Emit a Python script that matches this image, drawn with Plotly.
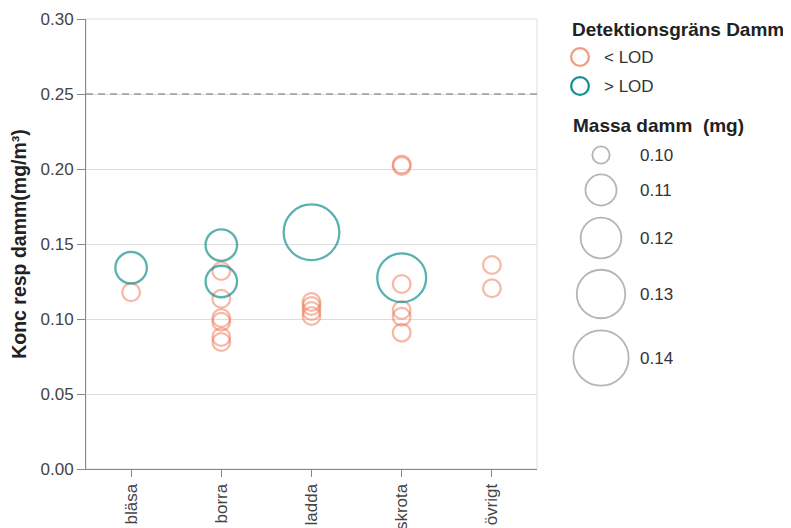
import math
import plotly.graph_objects as go

# ---------------- data ----------------
categories = ["bläsa", "borra", "ladda", "skrota", "övrigt"]

activity = ["bläsa", "bläsa",
            "borra", "borra", "borra", "borra", "borra", "borra", "borra", "borra",
            "ladda", "ladda", "ladda", "ladda", "ladda",
            "skrota", "skrota", "skrota", "skrota", "skrota", "skrota", "skrota",
            "övrigt", "övrigt"]
conc = [0.1342, 0.1178,
        0.1493, 0.1250, 0.1320, 0.1135, 0.1007, 0.0982, 0.0880, 0.0847,
        0.1578, 0.1113, 0.1087, 0.1053, 0.1020,
        0.1275, 0.2030, 0.2020, 0.1233, 0.1060, 0.1015, 0.0909,
        0.1360, 0.1205]
mass = [0.11, 0.10,
        0.11, 0.11, 0.10, 0.10, 0.10, 0.10, 0.10, 0.10,
        0.14, 0.10, 0.10, 0.10, 0.10,
        0.13, 0.10, 0.10, 0.10, 0.10, 0.10, 0.10,
        0.10, 0.10]
lod = ["> LOD", "< LOD",
       "> LOD", "> LOD", "< LOD", "< LOD", "< LOD", "< LOD", "< LOD", "< LOD",
       "> LOD", "< LOD", "< LOD", "< LOD", "< LOD",
       "> LOD", "< LOD", "< LOD", "< LOD", "< LOD", "< LOD", "< LOD",
       "< LOD", "< LOD"]

lod_levels = ["< LOD", "> LOD"]
size_legend_values = [0.10, 0.11, 0.12, 0.13, 0.14]
limit_value = 0.25
y_ticks = [0.00, 0.05, 0.10, 0.15, 0.20, 0.25, 0.30]

# ---------------- styles ----------------
OFF = 8                     # page body margin of the viewer
W, H = 791 - OFF, 528 - OFF  # figure size so it fits in the window
FONT = "Liberation Sans, Arial, sans-serif"
colors = {"< LOD": "rgba(238,122,90,0.76)", "> LOD": "rgba(20,146,140,1)"}
STROKE = 2.3


def marker_size(m):
    # area-linear size scale (outer diameter), minus stroke
    area = 400 + 74100 * (m - 0.10)
    return math.sqrt(area) - STROKE


fig = go.Figure()

for level in lod_levels:
    idx = [i for i, l in enumerate(lod) if l == level]
    fig.add_trace(go.Scatter(
        x=[activity[i] for i in idx],
        y=[conc[i] for i in idx],
        mode="markers",
        marker=dict(symbol="circle-open", size=[marker_size(mass[i]) for i in idx],
                    sizemode="diameter", color=colors[level],
                    line=dict(width=STROKE, color=colors[level])),
        showlegend=False, hoverinfo="skip",
    ))

# ---------------- legend (own axes in window-pixel units) ----------------
LX0 = 560
fig.add_trace(go.Scatter(
    x=[580, 580], y=[57, 86], xaxis="x2", yaxis="y2", mode="markers",
    marker=dict(symbol="circle-open", size=marker_size(0.10), color=[colors[l] for l in lod_levels],
                line=dict(width=STROKE, color=[colors[l] for l in lod_levels])),
    showlegend=False, hoverinfo="skip"))

size_y = [155, 190, 238, 294, 358]
fig.add_trace(go.Scatter(
    x=[601] * len(size_legend_values), y=size_y, xaxis="x2", yaxis="y2", mode="markers",
    marker=dict(symbol="circle-open", size=[marker_size(v) - 0.4 for v in size_legend_values],
                color="rgba(150,150,150,1)", line=dict(width=1.8, color="rgba(150,150,150,1)")),
    showlegend=False, hoverinfo="skip"))

ann = []
ann.append(dict(x=570, y=29, text="<b>Detektionsgräns Damm</b>", font=dict(size=19, color="#222", family=FONT)))
for lvl, yy in zip(lod_levels, [57, 86]):
    ann.append(dict(x=602, y=yy, text=lvl.replace("<", "&lt;").replace(">", "&gt;"),
                    font=dict(size=17, color="#333", family=FONT)))
ann.append(dict(x=571, y=125, text="<b>Massa damm\u00a0 (mg)</b>", font=dict(size=19, color="#222", family=FONT)))
for v, yy in zip(size_legend_values, size_y):
    ann.append(dict(x=638, y=yy, text=f"{v:.2f}", font=dict(size=17, color="#333", family=FONT)))
for a in ann:
    a.update(xref="x2", yref="y2", xanchor="left", yanchor="middle", showarrow=False)

# ---------------- layout ----------------
def fx(px):
    return (px - OFF) / W


def fy(py):
    return 1 - (py - OFF) / H


fig.update_layout(
    width=W, height=H,
    margin=dict(l=0, r=0, t=0, b=0),
    paper_bgcolor="white", plot_bgcolor="white",
    font=dict(family=FONT, size=17, color="#444"),
    annotations=ann,
    xaxis=dict(domain=[fx(86), fx(537)], type="category", categoryorder="array", categoryarray=categories,
               range=[-0.5, len(categories) - 0.5], showgrid=False, zeroline=False,
               showline=True, linecolor="#888", linewidth=1, automargin=False,
               ticks="outside", ticklen=7, tickcolor="#888", tickangle=-90,
               tickfont=dict(size=17, color="#444", family=FONT)),
    yaxis=dict(domain=[fy(469), fy(19)], range=[0, 0.30], tickvals=y_ticks, tickformat=".2f",
               showgrid=True, gridcolor="#dddddd", gridwidth=1, zeroline=False,
               showline=True, linecolor="#888", linewidth=1, automargin=False,
               ticks="outside", ticklen=8, tickcolor="#888",
               tickfont=dict(size=17, color="#444", family=FONT),
               title=dict(text="<b>Konc resp damm(mg/m³)</b>", standoff=10,
                          font=dict(size=19.5, color="#222", family=FONT))),
    xaxis2=dict(domain=[fx(LX0), 1], range=[LX0, OFF + W], visible=False, fixedrange=True,
                automargin=False, anchor="y2"),
    yaxis2=dict(domain=[0, 1], range=[OFF + H, OFF], visible=False, fixedrange=True,
                automargin=False, anchor="x2"),
    shapes=[
        dict(type="rect", xref="x domain", yref="y domain", x0=0, x1=1, y0=0, y1=1,
             line=dict(color="#dddddd", width=1), layer="below"),
        dict(type="line", xref="x domain", yref="y", x0=0, x1=1, y0=limit_value, y1=limit_value,
             line=dict(color="#999999", width=1.6, dash="7px,5px"), layer="above"),
    ],
)

fig.write_html("out.html")
